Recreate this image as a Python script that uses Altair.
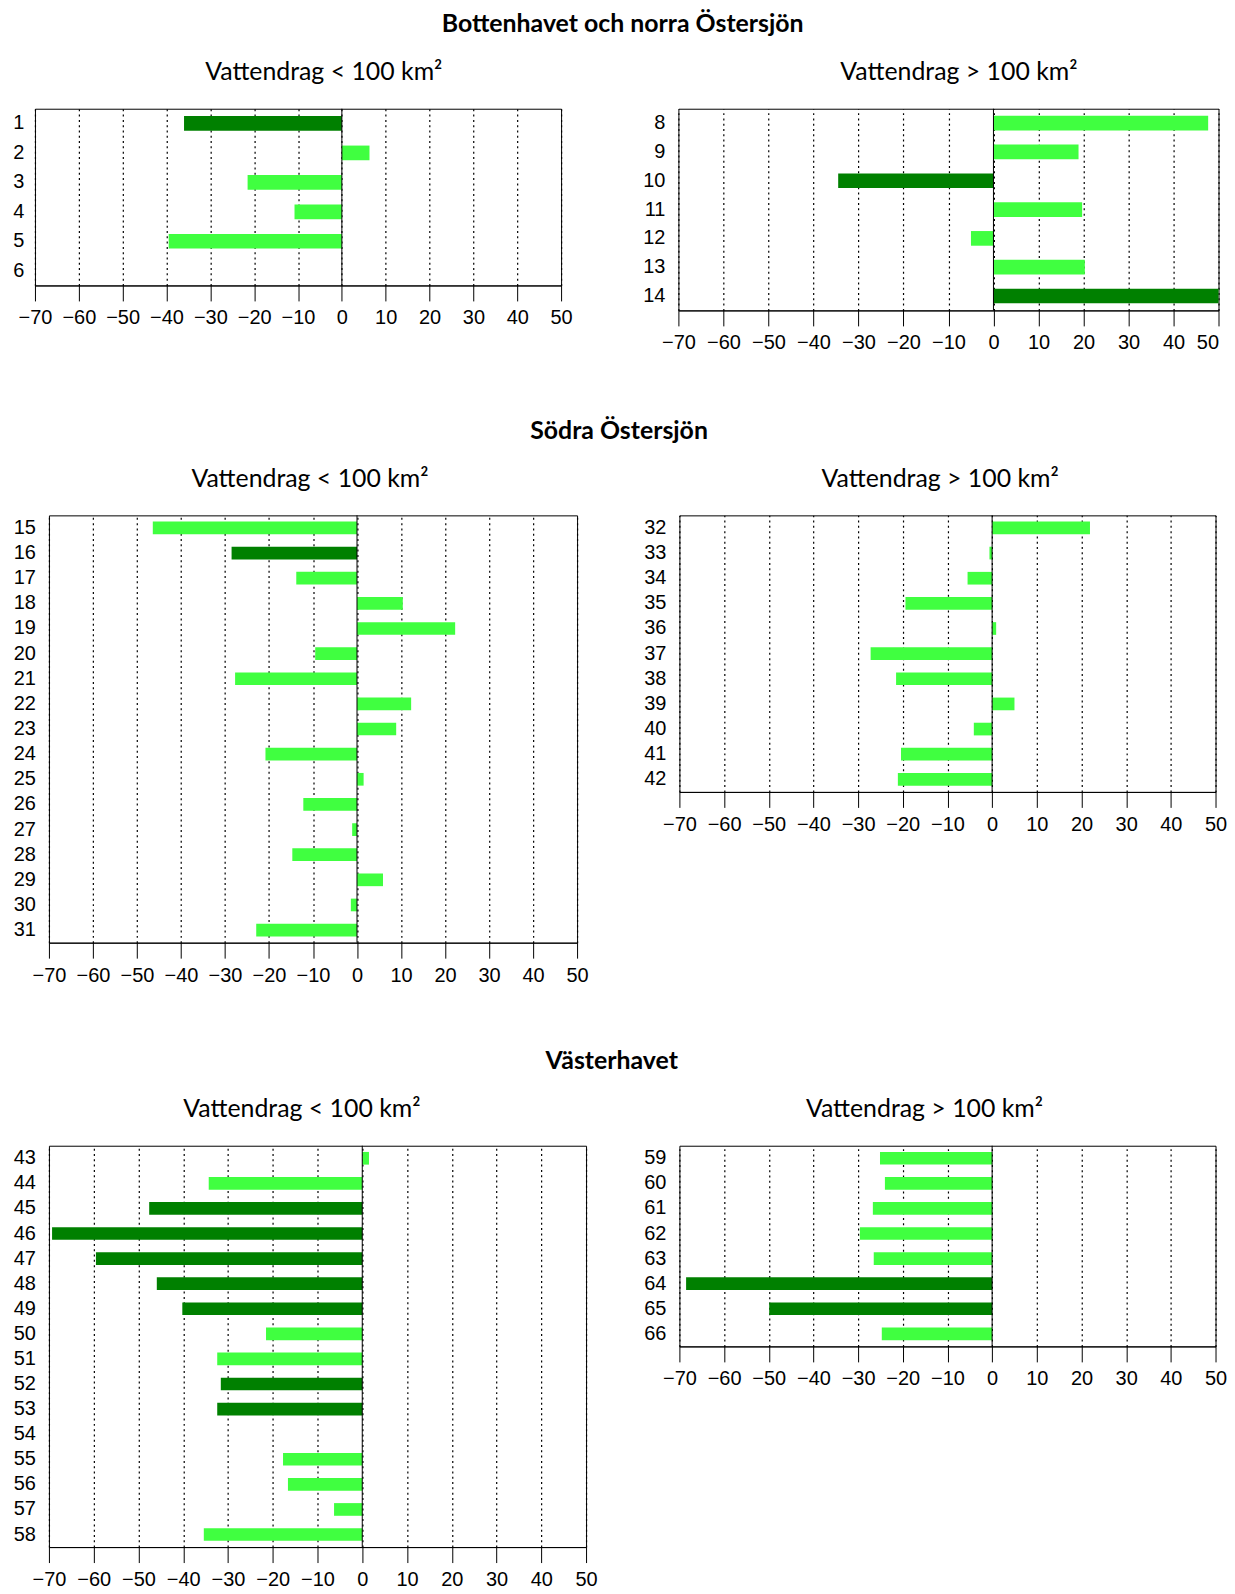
import altair as alt
import pandas as pd

# ---------------- data ----------------
p1_labels = ["1", "2", "3", "4", "5", "6"]
p1_values = [-36.0, 6.3, -21.5, -10.8, -39.5, None]
p1_dark = [1, 0, 0, 0, 0, 0]

p2_labels = ["8", "9", "10", "11", "12", "13", "14"]
p2_values = [47.7, 18.9, -34.5, 19.7, -5.0, 20.3, 50.0]
p2_dark = [0, 0, 1, 0, 0, 0, 1]

p3_labels = [str(i) for i in range(15, 32)]
p3_values = [-46.4, -28.5, -13.8, 10.4, 22.3, -9.5, -27.7, 12.3, 8.9,
             -20.8, 1.5, -12.2, -1.1, -14.7, 5.9, -1.4, -22.9]
p3_dark = [0, 1, 0, 0, 0, 0, 0, 0, 0, 0, 0, 0, 0, 0, 0, 0, 0]

p4_labels = [str(i) for i in range(32, 43)]
p4_values = [21.9, -0.6, -5.5, -19.4, 0.9, -27.2, -21.5, 5.0, -4.1, -20.4, -21.1]
p4_dark = [0, 0, 0, 0, 0, 0, 0, 0, 0, 0, 0]

p5_labels = [str(i) for i in range(43, 59)]
p5_values = [1.5, -34.3, -47.6, -69.3, -59.5, -45.9, -40.2, -21.5,
             -32.4, -31.6, -32.4, None, -17.7, -16.6, -6.3, -35.4]
p5_dark = [0, 0, 1, 1, 1, 1, 1, 0, 0, 1, 1, 0, 0, 0, 0, 0]

p6_labels = [str(i) for i in range(59, 67)]
p6_values = [-25.1, -24.0, -26.7, -29.6, -26.5, -68.5, -49.9, -24.7]
p6_dark = [0, 0, 0, 0, 0, 1, 1, 0]

x_ticks = [-70, -60, -50, -40, -30, -20, -10, 0, 10, 20, 30, 40, 50]

section_titles = ["Bottenhavet och norra Östersjön", "Södra Östersjön", "Västerhavet"]
sub_small = "Vattendrag < 100 km²"
sub_large = "Vattendrag > 100 km²"

LIGHT = "#40FF40"
DARK = "#008000"
NUM_FONT = "Liberation Sans"
TITLE_FONT = "Lato"


def panel(labels, values, dark, width, height, bar_size, subtitle, sub_dx,
          label_pad=13.5, last_label_right=False):
    df = pd.DataFrame({
        "station": labels,
        "value": values,
        "kind": ["dark" if d else "light" for d in dark],
    })
    if last_label_right:
        label_align = {"condition": {"test": "datum.value === 50", "value": "right"},
                       "value": "center"}
    else:
        label_align = "center"
    x_enc = alt.X(
        "value:Q",
        scale=alt.Scale(domain=[-70, 50], nice=False),
        axis=alt.Axis(
            title=None, values=x_ticks, grid=True, gridDash=[2, 3.3],
            gridColor="black", gridWidth=1.2, gridOpacity=1,
            tickSize=15.5, tickColor="black", tickWidth=1,
            domainColor="black", domainWidth=1,
            labelFlush=False, labelOverlap=False, labelAlign=label_align,
            labelFont=NUM_FONT, labelFontSize=20, labelColor="black",
            labelPadding=7,
        ),
    )
    y_enc = alt.Y(
        "station:N",
        sort=labels,
        scale=alt.Scale(domain=labels, paddingInner=0, paddingOuter=0),
        axis=alt.Axis(
            title=None, ticks=False, domain=False, grid=False,
            labelFont=NUM_FONT, labelFontSize=20, labelColor="black",
            labelPadding=label_pad, labelAlign="right",
        ),
    )
    bars = alt.Chart(df).mark_bar(size=bar_size).encode(
        x=x_enc,
        y=y_enc,
        color=alt.Color(
            "kind:N",
            scale=alt.Scale(domain=["light", "dark"], range=[LIGHT, DARK]),
            legend=None,
        ),
    )
    zero = alt.Chart(pd.DataFrame({"z": [0]})).mark_rule(
        color="black", strokeWidth=1
    ).encode(x=alt.datum(0))
    return alt.layer(bars, zero).properties(
        width=width,
        height=height,
        title=alt.TitleParams(
            text=subtitle, font=TITLE_FONT, fontSize=24.9, fontWeight="normal",
            color="black", anchor="middle", dx=sub_dx, offset=23.5,
        ),
    )


def spacer():
    # invisible 1x1 view that fixes the left origin of each row
    return alt.Chart(pd.DataFrame({"a": [0]})).mark_point(
        size=0, opacity=0, strokeWidth=0
    ).encode(
        x=alt.value(0), y=alt.value(0)
    ).properties(width=1, height=1, view=alt.ViewBackground(strokeOpacity=0))


def section(title, left, right, spacing, dx):
    return alt.hconcat(
        spacer(),
        alt.hconcat(left, right, spacing=spacing, bounds="flush"),
        spacing=0,
        title=alt.TitleParams(
            text=title, font=TITLE_FONT, fontSize=24.9, fontWeight="bold",
            color="black", anchor="middle", offset=22.4, dx=dx,
        ),
    )


p1 = panel(p1_labels, p1_values, p1_dark, 527, 177, 14.7, sub_small, 25.8, label_pad=11)
p2 = panel(p2_labels, p2_values, p2_dark, 541, 202, 14.7, sub_large, 10.5,
           last_label_right=True)
p3 = panel(p3_labels, p3_values, p3_dark, 529, 428, 12.7, sub_small, -3)
p4 = panel(p4_labels, p4_values, p4_dark, 537, 277, 12.7, sub_large, -7.3)
p5 = panel(p5_labels, p5_values, p5_dark, 538, 402, 12.7, sub_small, -15.6)
p6 = panel(p6_labels, p6_values, p6_dark, 537, 201, 12.7, sub_large, -23)

row1 = section(section_titles[0], p1, p2, 117.5, 7.4)
row2 = section(section_titles[1], p3, p4, 102.5, 0)
row3 = section(section_titles[2], p5, p6, 93.5, -7.3)

chart = alt.concat(
    row1,
    alt.concat(row2, row3, columns=1, align="none", spacing=63.4),
    columns=1, align="none", spacing=65.3,
).properties(
    padding={"left": 3, "top": 2.6, "right": -1, "bottom": -1.1},
).configure_view(
    stroke="black", strokeWidth=1,
)

chart.save("out.html", embed_options={"renderer": "svg", "actions": False})
